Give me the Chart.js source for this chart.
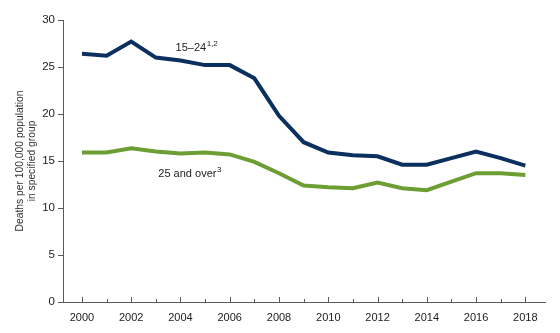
<!DOCTYPE html>
<html><head><meta charset="utf-8">
<script src="https://cdn.jsdelivr.net/npm/chart.js@4/dist/chart.umd.min.js"></script>
<style>html,body{margin:0;padding:0;background:#fff}#wrap{width:560px;height:333px}</style>
</head><body><div id="wrap"><canvas id="c" width="560" height="333"></canvas></div>
<script>
const years = [2000,2001,2002,2003,2004,2005,2006,2007,2008,2009,2010,2011,2012,2013,2014,2015,2016,2017,2018];
const age15to24 = [26.4,26.2,27.7,26.0,25.7,25.2,25.2,23.8,19.8,17.0,15.9,15.6,15.5,14.6,14.6,15.3,16.0,15.3,14.5];
const age25over = [15.9,15.9,16.35,16.0,15.8,15.9,15.7,14.9,13.7,12.4,12.2,12.1,12.7,12.1,11.9,12.8,13.7,13.7,13.5];
const yTicks = [0,5,10,15,20,25,30];
const seriesLabels = ['15\u201324', '25 and over'];
const seriesSup = ['1,2', '3'];

const FONT = '"Liberation Sans", Arial, sans-serif';
const AXIS = '#5a5a5a';

const annot = {
  id: 'annot',
  afterDatasetsDraw(chart) {
    const {ctx, scales:{x, y}} = chart;
    ctx.save();
    ctx.strokeStyle = AXIS; ctx.lineWidth = 1;
    years.forEach(yr => {
      const px = Math.round(x.getPixelForValue(yr)) + 0.5;
      const len = (yr % 2 === 0) ? 5 : 3;
      ctx.beginPath(); ctx.moveTo(px, y.bottom); ctx.lineTo(px, y.bottom - len); ctx.stroke();
    });
    ctx.fillStyle = '#222';
    ctx.textBaseline = 'alphabetic';
    const drawLab = (txt, sup, xv, yv) => {
      ctx.font = '11px ' + FONT;
      const px = x.getPixelForValue(xv), py = y.getPixelForValue(yv);
      ctx.textAlign = 'left';
      ctx.fillText(txt, px, py);
      const w = ctx.measureText(txt).width;
      ctx.font = '8px ' + FONT;
      ctx.fillText(sup, px + w + 0.5, py - 5);
    };
    drawLab(seriesLabels[0], seriesSup[0], 2003.8, 26.65);
    drawLab(seriesLabels[1], seriesSup[1], 2003.1, 13.35);
    ctx.restore();
  }
};

new Chart(document.getElementById('c'), {
  type: 'line',
  data: {
    datasets: [
      { label: seriesLabels[0], data: years.map((yr,i)=>({x:yr,y:age15to24[i]})), borderColor: '#0b2f5e', borderWidth: 4, pointRadius: 0, tension: 0, borderJoinStyle: 'miter' },
      { label: seriesLabels[1], data: years.map((yr,i)=>({x:yr,y:age25over[i]})), borderColor: '#6c9e34', borderWidth: 4, pointRadius: 0, tension: 0, borderJoinStyle: 'miter' }
    ]
  },
  options: {
    responsive: false, animation: false, devicePixelRatio: 1,
    layout: { padding: { top: 20, right: 15, left: 14, bottom: 0 } },
    plugins: { legend: { display: false }, tooltip: { enabled: false } },
    scales: {
      x: {
        type: 'linear', min: 1999.23, max: 2018.8,
        afterBuildTicks(s) { s.ticks = years.filter(v => v % 2 === 0).map(v => ({value: v})); },
        afterFit(s) { s.height = 31; },
        grid: { display: false, drawOnChartArea: false },
        border: { display: true, color: AXIS, width: 1 },
        ticks: { color: '#222', font: { family: FONT, size: 11 }, padding: 1, maxRotation: 0, callback: v => String(v) }
      },
      y: {
        min: 0, max: 30,
        afterBuildTicks(s) { s.ticks = yTicks.map(v => ({value: v})); },
        afterFit(s) { s.width = 49; },
        grid: { drawOnChartArea: false, drawTicks: true, tickLength: 5, color: AXIS },
        border: { display: true, color: AXIS, width: 1 },
        ticks: { color: '#222', font: { family: FONT, size: 11.5 }, padding: 3 },
        title: { display: true, text: ['Deaths per 100,000 population', 'in specified group'], color: '#333', font: { family: FONT, size: 10.3, lineHeight: 1.2 }, padding: { top: 0, bottom: 0 } }
      }
    }
  },
  plugins: [annot]
});
</script></body></html>
